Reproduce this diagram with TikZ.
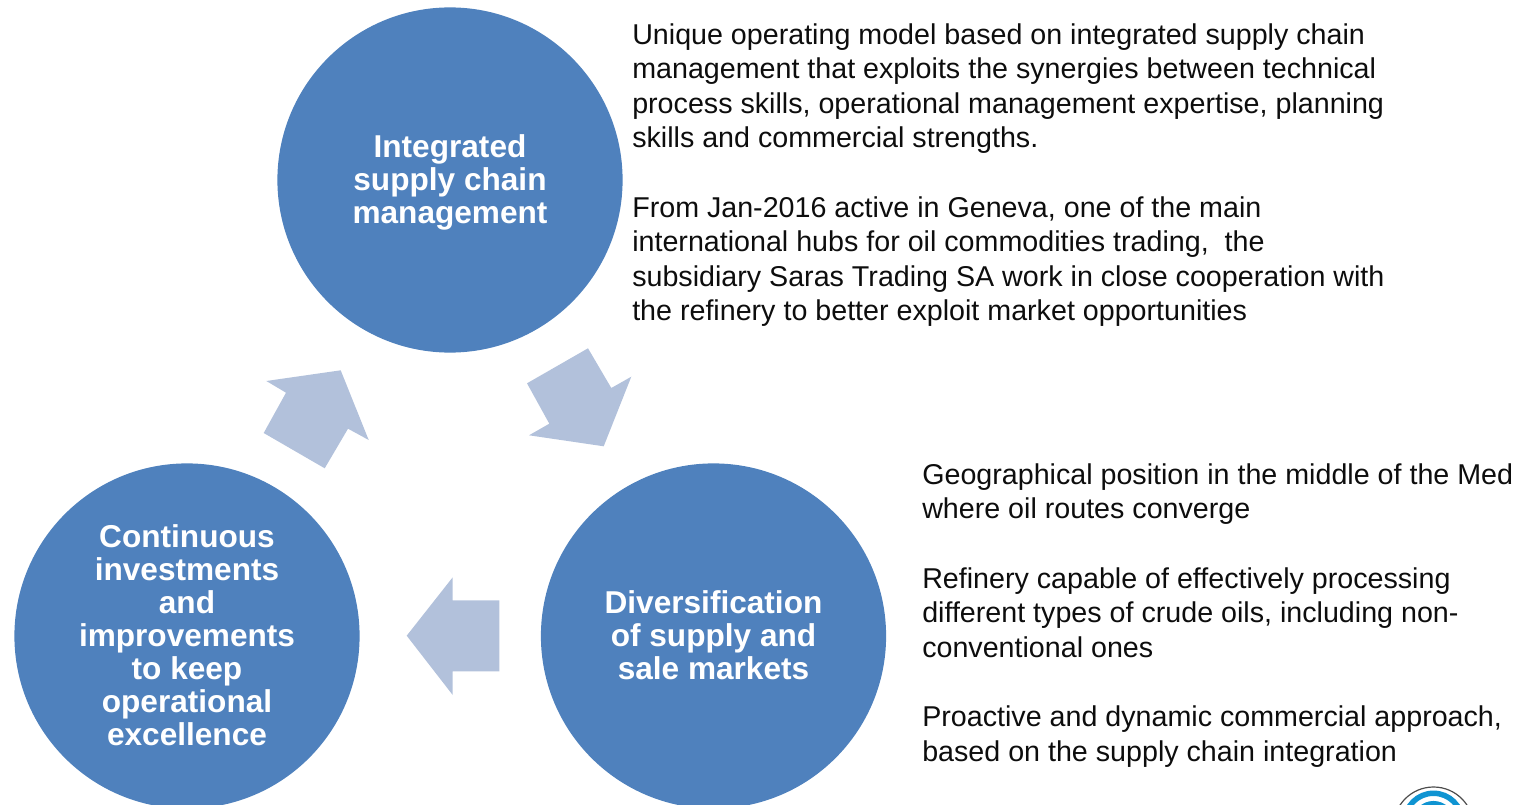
\documentclass[tikz,border=0pt]{standalone}
\usepackage{xcolor}
\usepackage{fontspec}
\setmainfont{Liberation Sans}
\definecolor{circleblue}{HTML}{4F81BD}
\definecolor{arrowblue}{HTML}{B2C1DB}
\definecolor{logoblue}{HTML}{0F94D2}
\tikzset{
  stagecircle/.style={circle,fill=circleblue,minimum size=258.9pt,inner sep=0pt},
  stagetext/.style={text=white,align=center,font=\fontsize{23.7}{24.72}\selectfont\bfseries},
  bodytext/.style={anchor=north west,inner sep=0pt,align=left,text=black!95,font=\fontsize{21.49}{25.95}\selectfont},
  blockarrow/.style={fill=arrowblue,draw=none}
}
\begin{document}
\begin{tikzpicture}[x=0.75pt,y=0.75pt,yscale=-1,xscale=1]
        \useasboundingbox (0,0) rectangle (1531,805);
        % logo, cut off by the page edge
        \begin{scope}
        \clip (1380,770) rectangle (1500,805);
        \draw [color=black!70,line width=0.9] (1433.5,827) circle (40);
        \draw [color=logoblue,line width=4.1] (1433.5,822) circle (28.75);
        \draw [color=logoblue,line width=3.8] (1433.5,822) circle (18.5);
        \end{scope}

        \node (supply) [stagecircle] at (450,180) {};
        \node (markets) [stagecircle] at (713.5,636) {};
        \node (invest) [stagecircle] at (187,636) {};

        \node (supplytext) [stagetext] at (450,182.3) {Integrated\\supply chain\\management};
        \node (marketstext) [stagetext] at (713.5,635.5) {Diversification\\of supply and\\sale markets};
        \node (investtext) [stagetext] at (187,635.2) {Continuous\\investments\\and\\improvements\\to keep\\operational\\excellence};

        \fill [blockarrow] (527,383.3) -- (588,348.3) -- (611.3,388) -- (631.3,376.7) -- (603.7,446.3) -- (529,435.3) -- (549.3,423.7) -- cycle;
        \fill [blockarrow] (499.3,600.3) -- (452.7,600.3) -- (452.7,577.3) -- (406.7,635.7) -- (452.7,695) -- (452.7,671.3) -- (499.3,671.3) -- cycle;
        \fill [blockarrow] (324.7,468.3) -- (263.7,433) -- (286,392.7) -- (266.3,381) -- (340.7,370.3) -- (368.7,440) -- (348,428.7) -- cycle;

        \node (topnotes) [bodytext] at (632,23) {Unique operating model based on integrated supply chain\\management that exploits the synergies between technical\\process skills, operational management expertise, planning\\skills and commercial strengths.\\[25.95pt]From Jan-2016 active in Geneva, one of the main\\international hubs for oil commodities trading,\ \ the\\subsidiary Saras Trading SA work in close cooperation with\\the refinery to better exploit market opportunities};
        \node (lownotes) [bodytext] at (922,463.3) {Geographical position in the middle of the Med\\where oil routes converge\\[25.95pt]Refinery capable of effectively processing\\different types of crude oils, including non-\\conventional ones\\[25.95pt]Proactive and dynamic commercial approach,\\based on the supply chain integration};
\end{tikzpicture}
\end{document}
